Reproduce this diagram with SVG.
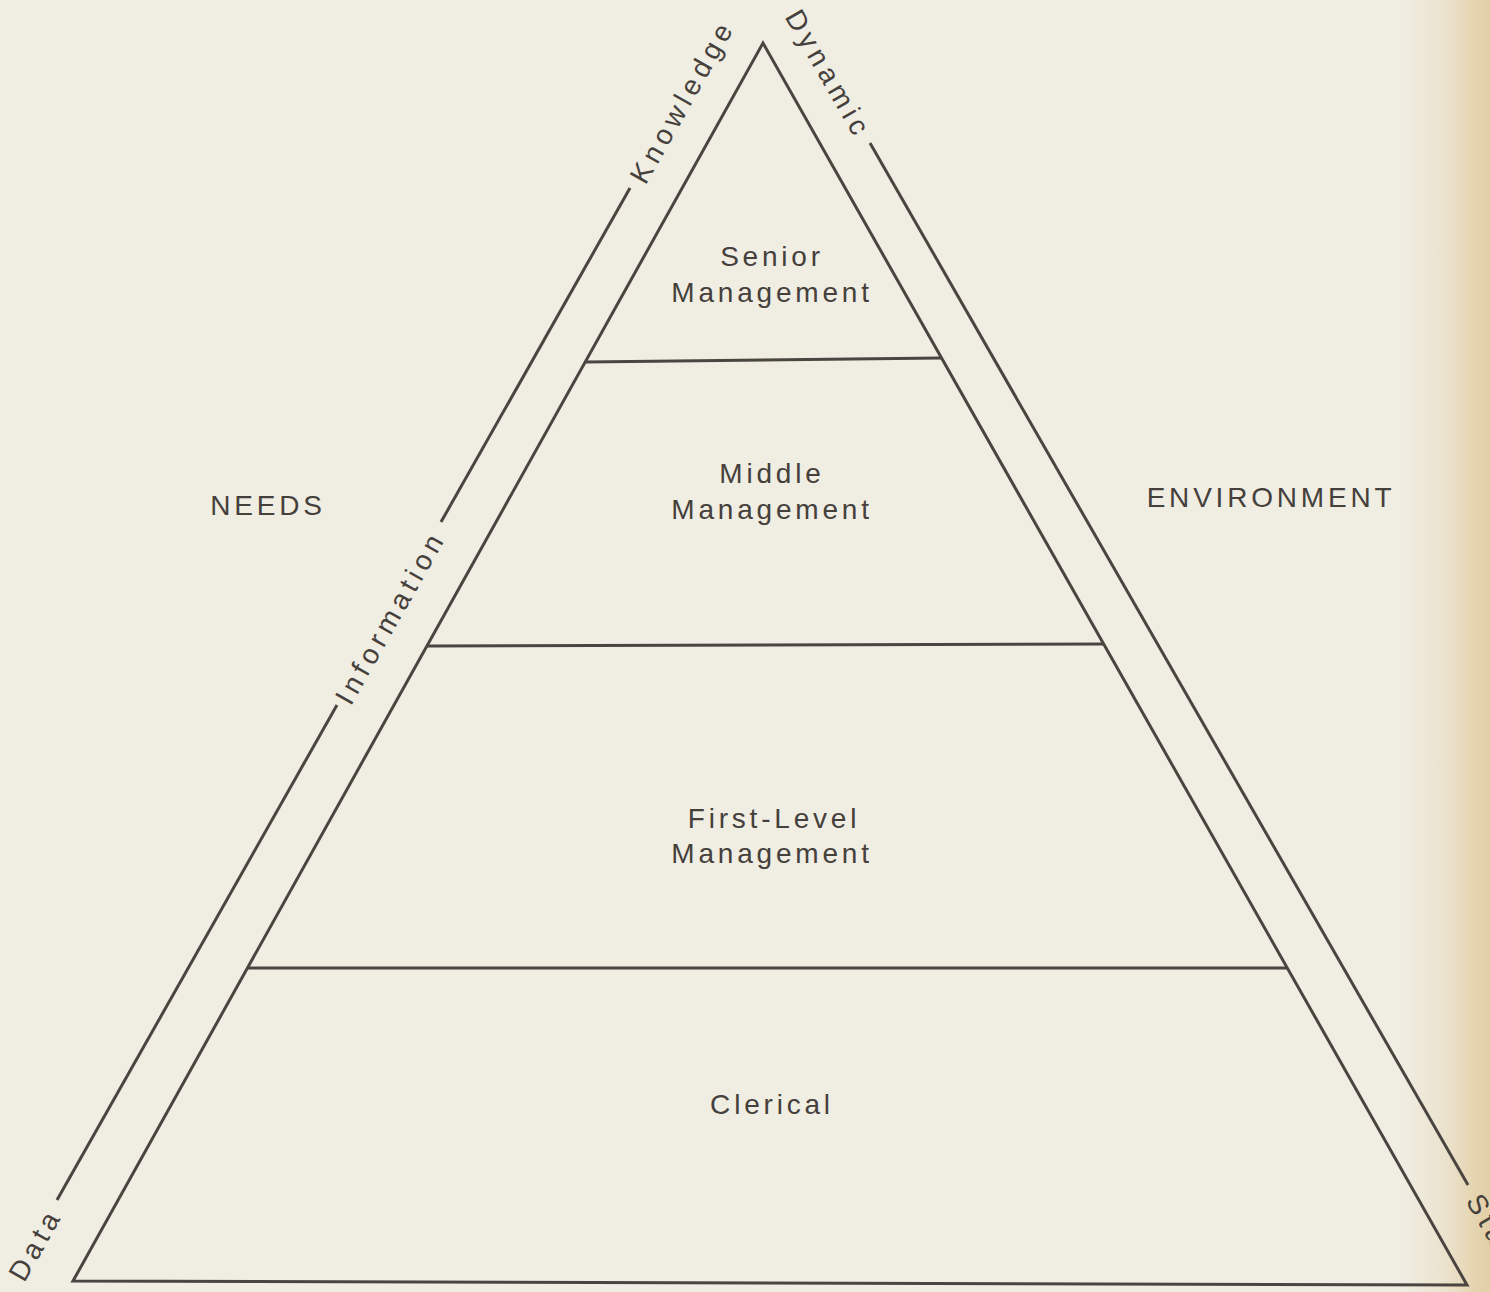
<svg xmlns="http://www.w3.org/2000/svg" width="1490" height="1292" viewBox="0 0 1490 1292">
  <defs>
    <linearGradient id="pageEdge" x1="0" y1="0" x2="1" y2="0">
      <stop offset="0" stop-color="#e9dec4" stop-opacity="0"/>
      <stop offset="0.45" stop-color="#e9dec4" stop-opacity="0.6"/>
      <stop offset="0.8" stop-color="#e5d5b2"/>
      <stop offset="1" stop-color="#e2cfa6"/>
    </linearGradient>
    <style>
      .edge { fill: none; stroke: #4a4540; stroke-width: 3; stroke-linejoin: miter; stroke-linecap: butt; }
      .lbl { font-family: "Liberation Sans", Arial, sans-serif; font-size: 28px; fill: #45403b; letter-spacing: 3.8px; text-anchor: middle; }
      .axis { font-family: "Liberation Sans", Arial, sans-serif; font-size: 28px; fill: #45403b; letter-spacing: 5px; text-anchor: middle; }
    </style>
  </defs>

  <!-- paper -->
  <rect x="0" y="0" width="1490" height="1292" fill="#f0ede3"/>
  <rect x="1400" y="0" width="90" height="1292" fill="url(#pageEdge)"/>

  <!-- pyramid outline and tier dividers -->
  <g id="connectors">
    <path class="edge" d="M73,1281 L763,43 L1467,1285 Z"/>
    <line class="edge" x1="586" y1="362" x2="941" y2="358"/>
    <line class="edge" x1="427" y1="646" x2="1104" y2="644"/>
    <line class="edge" x1="248" y1="968" x2="1287" y2="968"/>
    <!-- left scale: Data / Information / Knowledge -->
    <line class="edge" x1="57" y1="1200" x2="337" y2="705"/>
    <line class="edge" x1="441" y1="522" x2="630" y2="188"/>
    <!-- right scale: Dynamic / Static -->
    <line class="edge" x1="870" y1="143" x2="1468" y2="1185"/>
  </g>

  <!-- tiers -->
  <g id="senior">
    <text class="lbl" x="772" y="266">Senior</text>
    <text class="lbl" x="772" y="302">Management</text>
  </g>
  <g id="middle">
    <text class="lbl" x="772" y="483">Middle</text>
    <text class="lbl" x="772" y="519">Management</text>
  </g>
  <g id="first-level">
    <text class="lbl" x="774" y="828">First-Level</text>
    <text class="lbl" x="772" y="863">Management</text>
  </g>
  <g id="clerical">
    <text class="lbl" x="772" y="1114">Clerical</text>
  </g>

  <!-- side headings -->
  <g id="needs">
    <text class="lbl" x="268" y="515">NEEDS</text>
  </g>
  <g id="environment">
    <text class="lbl" x="1271" y="507">ENVIRONMENT</text>
  </g>

  <!-- scale labels set along the slanted lines -->
  <g id="data">
    <text class="axis" transform="translate(35,1244) rotate(-60.5)" x="0" y="10">Data</text>
  </g>
  <g id="information">
    <text class="axis" transform="translate(390,617) rotate(-60.5)" x="0" y="10">Information</text>
  </g>
  <g id="knowledge">
    <text class="axis" transform="translate(682,101) rotate(-60.5)" x="0" y="10">Knowledge</text>
  </g>
  <g id="dynamic">
    <text class="axis" transform="translate(829,74) rotate(60)" x="0" y="10">Dynamic</text>
  </g>
  <g id="static">
    <text class="axis" style="text-anchor:start" transform="translate(1474,1196) rotate(60)" x="0" y="10">Sta</text>
  </g>
</svg>
